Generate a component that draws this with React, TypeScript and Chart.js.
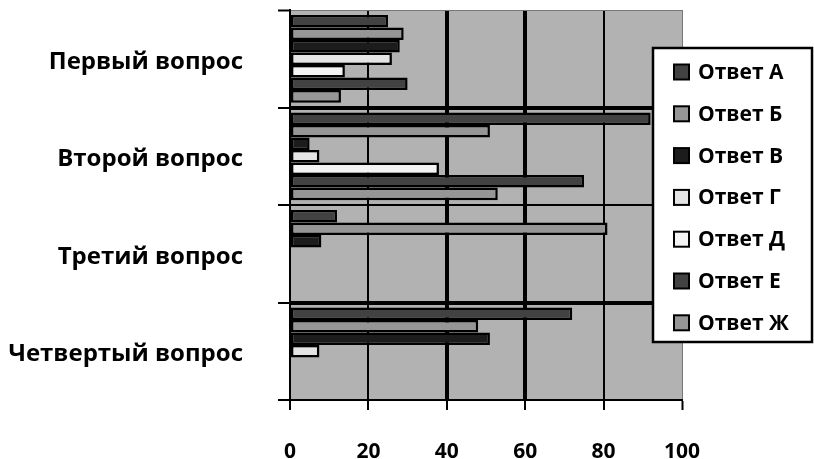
import React, { useEffect, useRef } from "react";
import { Chart, registerables } from "chart.js";

Chart.register(...registerables);

const categories = ["Первый вопрос", "Второй вопрос", "Третий вопрос", "Четвертый вопрос"];
const seriesLabels = ["Ответ А", "Ответ Б", "Ответ В", "Ответ Г", "Ответ Д", "Ответ Е", "Ответ Ж"];
const answerA = [25, 92, 12, 72];
const answerB = [29, 51, 81, 48];
const answerV = [28, 5, 8, 51];
const answerG = [26, 7.5, null, 7.5];
const answerD = [14, 38, null, null];
const answerE = [30, 75, null, null];
const answerZh = [13, 53, null, null];
const xTicks = [0, 20, 40, 60, 80, 100];

const seriesValues = [answerA, answerB, answerV, answerG, answerD, answerE, answerZh];
const seriesColors = ["#424242", "#969696", "#1c1c1c", "#e4e4e4", "#f4f4f4", "#424242", "#969696"];

const FONT = "'Open Sans', 'Noto Sans', sans-serif";

const bgPlugin = {
  id: "plotBg",
  beforeDraw(chart: any) {
    const { ctx, chartArea } = chart;
    ctx.save();
    ctx.fillStyle = "#b2b2b2";
    ctx.fillRect(chartArea.left, chartArea.top, chartArea.right - chartArea.left, chartArea.bottom - chartArea.top);
    ctx.restore();
  },
};

const legendPlugin = {
  id: "boxLegend",
  afterDraw(chart: any) {
    const { ctx } = chart;
    const x0 = 653, y0 = 48, w = 159, h = 294;
    ctx.save();
    ctx.fillStyle = "#fff";
    ctx.fillRect(x0, y0, w, h);
    ctx.lineWidth = 2.5;
    ctx.strokeStyle = "#000";
    ctx.strokeRect(x0, y0, w, h);
    chart.data.datasets.forEach((ds: any, i: number) => {
      const cy = 72 + i * 41.8;
      ctx.fillStyle = ds.backgroundColor;
      ctx.fillRect(674, cy - 7.5, 15, 15);
      ctx.lineWidth = 2;
      ctx.strokeStyle = "#000";
      ctx.strokeRect(674, cy - 7.5, 15, 15);
      ctx.fillStyle = "#000";
      ctx.font = `bold 21px ${FONT}`;
      ctx.textBaseline = "middle";
      ctx.textAlign = "left";
      ctx.fillText(ds.label, 698, cy + 1);
    });
    ctx.restore();
  },
};

export default function App() {
  const ref = useRef<HTMLCanvasElement | null>(null);
  useEffect(() => {
    document.body.style.margin = "0";
    const xWidths = [2, 2, 4, 4, 2, 1];
    const yWidths = [1, 4, 2, 4, 2];
    const chart = new Chart(ref.current as HTMLCanvasElement, {
      type: "bar",
      data: {
        labels: categories,
        datasets: seriesLabels.map((label, i) => ({
          label,
          data: seriesValues[i] as any,
          backgroundColor: seriesColors[i],
          borderColor: "#000",
          borderWidth: 2.5,
          borderSkipped: false,
          categoryPercentage: 0.9,
          barPercentage: 1,
        })),
      },
      options: {
        indexAxis: "y",
        animation: false,
        responsive: false,
        devicePixelRatio: 1,
        layout: { padding: { top: 10, right: 132, left: 0, bottom: 0 } },
        plugins: { legend: { display: false }, tooltip: { enabled: false } },
        scales: {
          x: {
            min: 0,
            max: 100,
            afterFit: (s: any) => {
              s.height = 59;
              s.paddingLeft = 0;
              s.paddingRight = 0;
            },
            afterBuildTicks: (s: any) => { s.ticks = xTicks.map((v) => ({ value: v })); },
            grid: {
              color: (c: any) => (c.index === 5 ? "#777" : "#000"),
              lineWidth: (c: any) => xWidths[c.index] ?? 2,
              tickColor: "#000",
              tickWidth: 2,
              tickLength: 10,
            },
            border: { display: true, color: "#000", width: 2 },
            ticks: {
              color: "#000",
              padding: 29,
              font: { family: FONT, weight: "bold", size: 21 },
            },
          },
          y: {
            afterFit: (s: any) => {
              s.width = 290;
              s.paddingTop = 0;
              s.paddingBottom = 0;
            },
            grid: {
              offset: true,
              color: (c: any) => (c.index === 0 ? "#777" : "#000"),
              lineWidth: (c: any) => yWidths[c.index] ?? 2,
              tickColor: "#000",
              tickWidth: 2,
              tickLength: 12,
            },
            border: { display: true, color: "#000", width: 2 },
            ticks: {
              color: "#000",
              padding: 35,
              labelOffset: 3,
              font: { family: FONT, weight: "bold", size: 24 },
            },
          },
        },
      },
      plugins: [bgPlugin, legendPlugin],
    });
    return () => chart.destroy();
  }, []);
  return (
    <div style={{ position: "absolute", left: 0, top: 0, width: 814, height: 459, background: "#fff" }}>
      <canvas ref={ref} width={814} height={459} style={{ width: 814, height: 459 }} />
    </div>
  );
}
